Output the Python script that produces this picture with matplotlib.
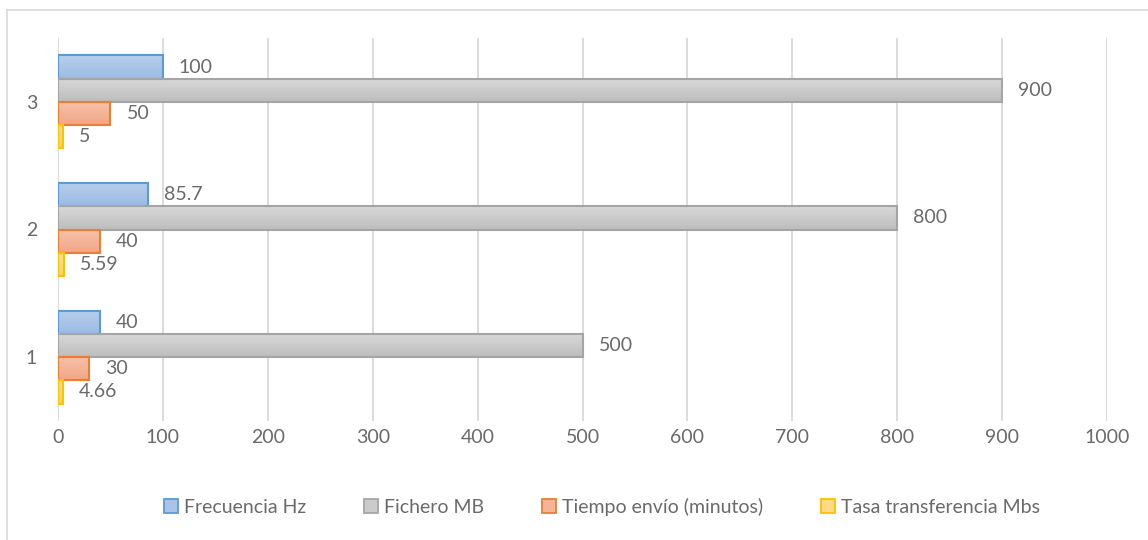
import numpy as np
import matplotlib
matplotlib.use("Agg")
import matplotlib.pyplot as plt
from matplotlib.patches import Patch
from matplotlib.lines import Line2D
from matplotlib.colors import LinearSegmentedColormap

plt.rcParams['font.family'] = ['Lato', 'DejaVu Sans']

categories = ["1", "2", "3"]
series_names = ["Frecuencia Hz", "Fichero MB", "Tiempo envío (minutos)", "Tasa transferencia Mbs"]
frecuencia = [40, 85.7, 100]
fichero = [500, 800, 900]
tiempo = [30, 40, 50]
tasa = [4.66, 5.59, 5]
value_labels = [
    ["40", "85.7", "100"],
    ["500", "800", "900"],
    ["30", "40", "50"],
    ["4.66", "5.59", "5"],
]
x_ticks = [0, 100, 200, 300, 400, 500, 600, 700, 800, 900, 1000]

series_values = [frecuencia, fichero, tiempo, tasa]
edge_colors = ["#5b9bd5", "#a5a5a5", "#ed7d31", "#ffc000"]
grad_top = ["#b7cfec", "#d9d9d9", "#f7c3ab", "#ffe09a"]
grad_bottom = ["#9abbe4", "#bdbdbd", "#f3a585", "#ffd36a"]
legend_fill = ["#a8c5e8", "#cbcbcb", "#f5b498", "#ffda85"]
text_color = "#6a6a6a"
fs = 14

fig = plt.figure(figsize=(11.48, 5.40), dpi=100)
W, H = 1148, 540
ax = fig.add_axes([58 / W, 1 - 421 / H, (1107 - 58) / W, (421 - 38) / H])

n_series = len(series_values)
gap = 1.5
bar_h = 1.0 / (n_series + gap)
y_base = np.arange(len(categories))

for s, vals in enumerate(series_values):
    offset = (n_series - 1) / 2 - s
    ys = y_base + offset * bar_h
    bars = ax.barh(ys, vals, height=bar_h, facecolor="none",
                   edgecolor=edge_colors[s], linewidth=1.5, zorder=3)
    cmap = LinearSegmentedColormap.from_list("g%d" % s, [grad_bottom[s], grad_top[s]])
    grad = np.linspace(0, 1, 64).reshape(-1, 1)
    for b in bars:
        x0, y0 = b.get_x(), b.get_y()
        w, h = b.get_width(), b.get_height()
        im = ax.imshow(grad, cmap=cmap, aspect="auto", origin="lower",
                       extent=[x0, x0 + w, y0, y0 + h], zorder=2,
                       interpolation="bilinear")
        im.set_clip_path(b)
    for b, lab in zip(bars, value_labels[s]):
        ax.annotate(lab, (b.get_width(), b.get_y() + b.get_height() / 2),
                    xytext=(16, 0), textcoords="offset pixels",
                    ha="left", va="center", fontsize=fs, color=text_color)

ax.set_xlim(0, 1000)
ax.set_ylim(-0.5, len(categories) - 0.5)
ax.set_xticks(x_ticks)
ax.set_xticklabels([str(t) for t in x_ticks])
ax.set_yticks(y_base)
ax.set_yticklabels(categories)
ax.tick_params(axis="both", length=0, labelsize=fs, labelcolor=text_color)
ax.tick_params(axis="x", pad=6)
ax.tick_params(axis="y", pad=15)
ax.grid(axis="x", color="#d9d9d9", linewidth=1.3, zorder=0)
ax.set_axisbelow(True)
for sp in ax.spines.values():
    sp.set_visible(False)

handles = [Patch(facecolor=legend_fill[i], edgecolor=edge_colors[i], linewidth=1.3)
           for i in range(n_series)]
fig.legend(handles, series_names, loc="center", bbox_to_anchor=(602 / W, 1 - 507 / H),
           ncol=4, frameon=False, fontsize=fs, labelcolor=text_color,
           handlelength=0.7, handleheight=0.7, handletextpad=0.3, columnspacing=3.0)

# chart frame
fig.add_artist(Line2D([7 / W, 7 / W], [0, 1 - 10 / H], transform=fig.transFigure,
                      color="#d9d9d9", linewidth=1.2))
fig.add_artist(Line2D([7 / W, 1], [1 - 10 / H, 1 - 10 / H], transform=fig.transFigure,
                      color="#d9d9d9", linewidth=1.2))

fig.savefig("out.png", dpi=100)
